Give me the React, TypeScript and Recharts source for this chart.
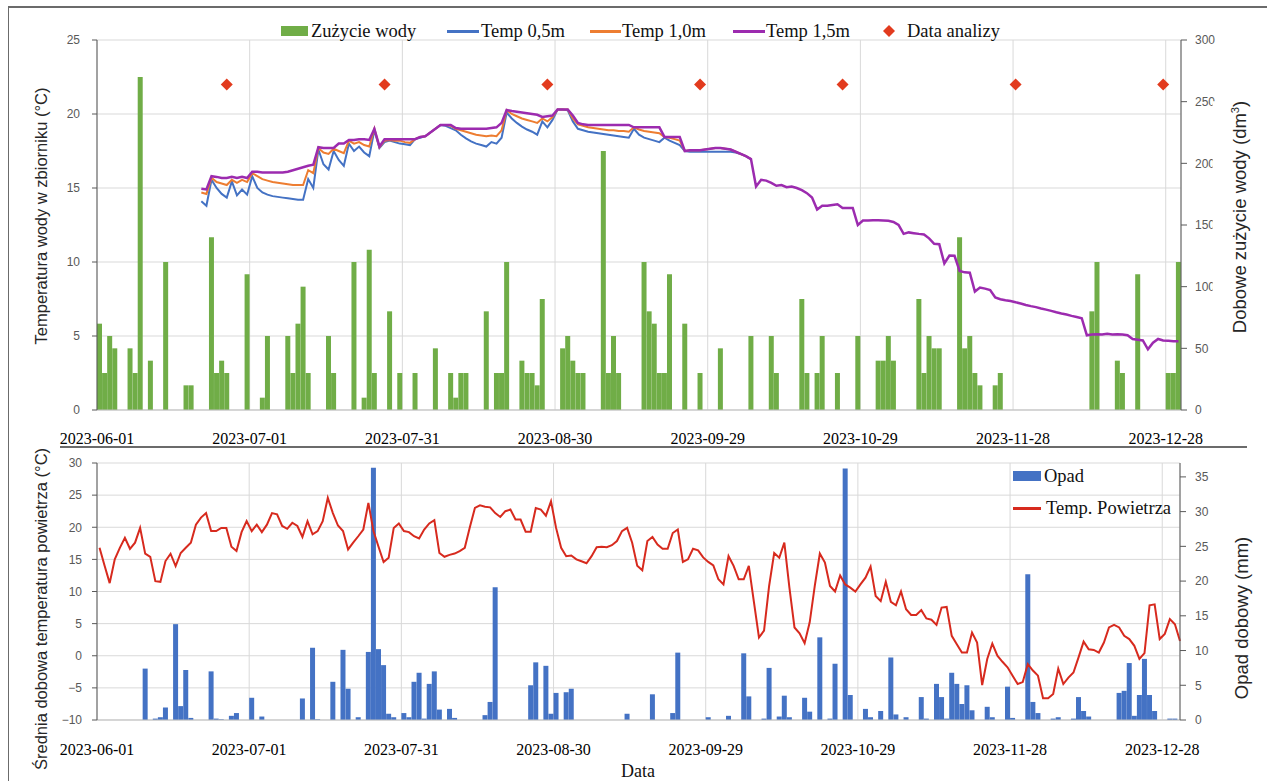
import React from 'react';
import {
  ComposedChart,
  Bar,
  Line,
  XAxis,
  YAxis,
  CartesianGrid,
} from 'recharts';

// day index 0 = 2023-06-01
const X_TICKS = [0, 30, 60, 90, 120, 150, 180, 210];
const X_LABELS = [
  '2023-06-01',
  '2023-07-01',
  '2023-07-31',
  '2023-08-30',
  '2023-09-29',
  '2023-10-29',
  '2023-11-28',
  '2023-12-28',
];

// daily water use (dm3), days 0..212
const WATER = [
  70, 30, 60, 50, 0, 0, 50, 30, 270, 0,
  40, 0, 0, 120, 0, 0, 0, 20, 20, 0,
  0, 0, 140, 30, 40, 30, 0, 0, 0, 110,
  0, 0, 10, 60, 0, 0, 0, 60, 30, 70,
  100, 30, 0, 0, 0, 60, 30, 0, 0, 0,
  120, 0, 10, 130, 30, 0, 0, 80, 0, 30,
  0, 0, 30, 0, 0, 0, 50, 0, 0, 30,
  10, 30, 30, 0, 0, 0, 80, 0, 30, 30,
  120, 0, 0, 40, 30, 30, 20, 90, 0, 0,
  0, 50, 60, 40, 30, 30, 0, 0, 0, 210,
  30, 60, 30, 0, 0, 0, 0, 120, 80, 70,
  30, 30, 110, 0, 0, 70, 0, 0, 30, 0,
  0, 0, 50, 0, 0, 0, 0, 0, 60, 0,
  0, 0, 60, 30, 0, 0, 0, 0, 90, 30,
  0, 30, 60, 0, 0, 30, 0, 0, 0, 60,
  0, 0, 0, 40, 40, 60, 40, 0, 0, 0,
  0, 90, 30, 60, 50, 50, 0, 0, 0, 140,
  50, 60, 30, 20, 0, 0, 20, 30, 0, 0,
  0, 0, 0, 0, 0, 0, 0, 0, 0, 0,
  0, 0, 0, 0, 0, 80, 120, 0, 0, 0,
  40, 30, 0, 0, 110, 0, 0, 0, 0, 0,
  30, 30, 120,
];

// tank temperatures, first value is day 20
const TEMP_START = 20;
const TEMP_15 = [
  14.95, 14.9, 15.8, 15.75, 15.67, 15.67, 15.75, 15.67, 15.75, 15.67,
  16.1, 16.1, 16.05, 16.05, 16.05, 16.05, 16.05, 16.1, 16.2, 16.3,
  16.4, 16.5, 16.57, 17.76, 17.7, 17.7, 17.7, 18.0, 18.0, 18.25,
  18.25, 18.3, 18.3, 18.25, 19.0, 17.8, 18.3, 18.3, 18.3, 18.3,
  18.3, 18.3, 18.3, 18.45, 18.5, 18.75, 19.0, 19.26, 19.26, 19.26,
  19.05, 19.0, 19.0, 19.0, 19.0, 19.0, 19.0, 19.05, 19.1, 19.4,
  20.27, 20.2, 20.15, 20.1, 20.05, 20.0, 19.95, 19.8, 19.85, 19.9,
  20.3, 20.3, 20.3, 19.9, 19.4, 19.3, 19.26, 19.26, 19.26, 19.26,
  19.26, 19.26, 19.26, 19.26, 19.26, 19.1, 19.1, 19.1, 19.1, 19.1,
  19.1, 18.45, 18.45, 18.45, 18.45, 17.5, 17.55, 17.55, 17.55, 17.6,
  17.65, 17.7, 17.7, 17.65, 17.6, 17.45, 17.3, 17.15, 16.95, 15.1,
  15.55, 15.5, 15.35, 15.15, 15.2, 15.05, 15.1, 15.0, 14.85, 14.65,
  14.35, 13.55, 13.8, 13.8, 13.85, 13.9, 13.65, 13.65, 13.65, 12.5,
  12.8, 12.8, 12.82, 12.82, 12.8, 12.78, 12.7, 12.5, 11.9, 12.0,
  11.95, 11.9, 11.86, 11.6, 11.23, 11.2, 9.9, 10.44, 10.42, 9.4,
  9.3, 9.28, 8.0, 8.27, 8.2, 8.1, 7.6, 7.48, 7.42, 7.37,
  7.28, 7.2, 7.1, 7.02, 6.95, 6.86, 6.78, 6.7, 6.6, 6.52,
  6.45, 6.36, 6.28, 6.2, 5.05, 5.1, 5.12, 5.1, 5.15, 5.1,
  5.12, 5.1, 5.05, 4.8, 4.75, 4.7, 4.1, 4.55, 4.8, 4.7,
  4.68, 4.65, 4.65,
];
const TEMP_10 = [
  14.7, 14.6, 15.7, 15.4, 15.3, 15.2, 15.55, 15.35, 15.55, 15.4,
  16.0, 15.8, 15.6, 15.5, 15.4, 15.35, 15.3, 15.25, 15.2, 15.2,
  15.2, 16.2, 16.0, 17.7, 17.4, 17.3, 17.65, 17.5, 17.35, 18.2,
  18.0, 18.1, 17.9, 17.8, 19.0, 17.75, 18.2, 18.25, 18.2, 18.2,
  18.1, 18.05, 18.3, 18.45, 18.5, 18.75, 19.0, 19.26, 19.26, 19.2,
  19.0, 18.9, 18.8, 18.7, 18.6, 18.55, 18.5, 18.55, 18.5, 18.9,
  20.25, 20.0, 19.85, 19.7, 19.6, 19.5, 19.4, 19.7, 19.5, 19.8,
  20.3, 20.3, 20.3, 19.7, 19.3, 19.2, 19.1, 19.05, 19.0, 18.95,
  18.9, 18.9, 18.85, 18.85, 18.8, 19.1, 18.95, 18.85, 18.8, 18.75,
  18.7, 18.45, 18.4, 18.3, 18.2, 17.5, 17.55, 17.55, 17.55, 17.6,
  17.65, 17.7, 17.7, 17.65, 17.6, 17.45, 17.3, 17.15, 16.95,
];
const TEMP_05 = [
  14.1, 13.8, 15.56, 15.0, 14.6, 14.35, 15.45, 14.5, 14.9, 14.55,
  15.8, 15.0, 14.7, 14.55, 14.45, 14.4, 14.35, 14.3, 14.25, 14.2,
  14.2, 15.6, 15.0, 17.6, 16.6, 16.25, 17.5, 16.9, 16.5, 18.0,
  17.5, 17.8, 17.4, 17.15, 18.9, 17.7, 18.1, 18.2, 18.1, 18.0,
  17.95, 17.9, 18.3, 18.4, 18.5, 18.75, 19.0, 19.26, 19.2, 19.05,
  18.9, 18.6, 18.35, 18.15, 18.0, 17.9, 17.8, 18.1, 18.0, 18.4,
  20.1, 19.7, 19.4, 19.15, 18.95, 18.8, 18.6, 19.5, 19.1, 19.6,
  20.3, 20.3, 20.25, 19.5, 19.0, 18.9, 18.8, 18.75, 18.7, 18.65,
  18.6, 18.55, 18.5, 18.45, 18.4, 19.0, 18.6, 18.4, 18.3, 18.2,
  18.1, 18.4, 18.2, 18.05, 17.9, 17.5, 17.45, 17.45, 17.45, 17.45,
  17.45, 17.45, 17.45, 17.45, 17.45, 17.4, 17.3, 17.15, 16.95,
];

// sampling days, marked at 22 °C
const ANALYSIS_DAYS = [25, 56, 88, 118, 146, 180, 209];
const ANALYSIS_LEVEL = 22;

// mean daily air temperature (°C), days 0..213
const AIR_TEMP = [
  16.8, 14.0, 11.3, 15.0, 16.8, 18.36, 16.65, 17.6, 19.9, 15.9,
  15.4, 11.6, 11.5, 14.74, 15.88, 13.96, 16.0, 16.8, 17.6, 20.4,
  21.5, 22.2, 19.4, 19.4, 19.9, 19.9, 16.96, 16.3, 19.24, 20.95,
  19.4, 20.4, 19.24, 20.4, 22.2, 22.0, 20.2, 19.76, 20.7, 20.2,
  18.5, 20.95, 18.9, 19.4, 20.95, 24.57, 22.2, 20.27, 19.4, 16.55,
  17.6, 18.6, 19.65, 23.8, 19.4, 16.96, 14.6, 15.26, 19.9, 20.6,
  19.4, 19.24, 18.6, 18.26, 19.65, 20.6, 21.1, 16.0, 15.4, 15.7,
  15.9, 16.3, 16.8, 20.0, 23.0, 23.4, 23.2, 23.1, 22.2, 21.6,
  22.5, 22.75, 21.2, 21.2, 19.3, 19.3, 23.0, 22.75, 21.8, 24.05,
  19.9, 16.8, 15.5, 15.6, 15.0, 14.7, 14.4, 15.5, 16.9, 16.96,
  16.9, 17.2, 17.85, 19.4, 19.9, 17.6, 14.0, 13.3, 17.85, 18.5,
  17.3, 16.65, 16.65, 19.1, 19.65, 14.6, 15.0, 16.65, 16.4, 15.3,
  14.6, 14.07, 11.9, 11.1, 15.5, 14.0, 11.9, 11.9, 14.0, 8.4,
  2.84, 3.9, 10.86, 16.0, 15.26, 17.6, 10.6, 4.4, 3.5, 1.96,
  5.2, 10.86, 15.9, 14.5, 10.86, 10.0, 12.5, 11.1, 10.6, 10.0,
  11.1, 12.15, 13.86, 9.3, 8.5, 11.5, 8.4, 7.86, 10.0, 7.24,
  6.36, 6.36, 7.1, 5.8, 5.6, 4.8, 7.5, 7.6, 3.1, 1.8,
  0.5, 0.5, 3.6, 2.06, -4.56, -0.5, 1.9, 0, -0.94, -1.8,
  -3.1, -4.4, -4.1, -1.3, -2.3, -3.1, -6.6, -6.6, -5.95, -2.0,
  -4.4, -3.4, -2.6, -0.26, 2.2, 1.0, 0.9, 0.5, 2.06, 4.4,
  4.8, 4.4, 3.1, 2.6, 1.55, -0.5, 0.4, 7.86, 8.0, 2.6,
  3.4, 5.7, 4.9, 2.3,
];

// daily precipitation (mm), days 0..212
const RAIN = [
  0, 0, 0, 0, 0, 0, 0, 0, 0, 7.4,
  0, 0.2, 0.4, 1.8, 0, 13.8, 2.0, 7.2, 0.3, 0,
  0, 0, 7.0, 0.2, 0.1, 0, 0.6, 1.0, 0, 0,
  3.2, 0, 0.5, 0, 0, 0, 0, 0, 0, 0,
  3.1, 0, 10.4, 0.1, 0, 0, 5.5, 0, 10.1, 4.5,
  0, 0.4, 0, 9.8, 36.3, 10.2, 7.9, 0.9, 0.4, 0,
  1.0, 0.4, 5.5, 6.8, 0.2, 5.2, 7.0, 1.5, 0, 1.6,
  0.3, 0, 0, 0, 0, 0, 0.7, 2.6, 19.1, 0,
  0, 0, 0, 0, 0, 5.0, 8.3, 0, 7.8, 0.9,
  3.9, 0, 4.0, 4.5, 0, 0, 0, 0, 0, 0,
  0, 0, 0, 0, 0.9, 0, 0, 0, 0, 3.7,
  0, 0, 0, 1.0, 9.7, 0, 0, 0, 0, 0,
  0.4, 0, 0, 0, 0.6, 0, 0, 9.6, 3.4, 0,
  0, 0.2, 7.5, 0, 0.5, 3.5, 0.4, 0, 0, 3.2,
  1.2, 0, 11.9, 0, 0.2, 8.1, 0, 36.2, 3.6, 0,
  0, 1.6, 0.4, 0, 1.3, 0, 9.0, 0.8, 0, 0.4,
  0, 0, 3.3, 0.2, 0, 5.2, 3.3, 0.2, 6.8, 5.2,
  2.3, 5.0, 1.4, 0, 0, 1.9, 0.4, 0, 0, 4.8,
  0.3, 0, 0, 21.0, 2.6, 1.0, 0, 0, 0.2, 0.4,
  0, 0, 0.2, 3.3, 1.3, 0.5, 0, 0, 0, 0,
  0, 3.9, 4.2, 8.2, 0.6, 3.6, 8.8, 3.6, 1.3, 0,
  0, 0.2, 0.2,
];

const pick = (arr: number[], d: number, start = 0) => {
  const v = arr[d - start];
  return v === undefined ? null : v;
};

// every day sits in the middle of its one-day band
const topData = WATER.map((w, d) => ({
  x: d + 0.5,
  water: w > 0 ? w : null,
  t05: pick(TEMP_05, d, TEMP_START),
  t10: pick(TEMP_10, d, TEMP_START),
  t15: pick(TEMP_15, d, TEMP_START),
  analiza: ANALYSIS_DAYS.includes(d) ? ANALYSIS_LEVEL : null,
}));

const bottomData = AIR_TEMP.map((t, d) => ({
  x: d + 0.5,
  air: t,
  rain: RAIN[d] > 0 ? RAIN[d] : null,
}));

const SERIF = '"Liberation Serif", "Times New Roman", serif';
const SANS = '"Liberation Sans", Arial, sans-serif';
const GREEN = '#70ad47';
const BLUE = '#4472c4';
const ORANGE = '#ed7d31';
const PURPLE = '#9c2baf';
const DIAMOND = '#e23b1e';
const RED = '#d72a1e';

const fmtDate = (v: number) => X_LABELS[X_TICKS.indexOf(v)] ?? '';
const fmtTemp = (v: number) => (v < 0 ? `\u2212${Math.abs(v)}` : `${v}`);

const tickStyle = { fontSize: 12, fill: '#595959', fontFamily: SANS };
const dateTick = { fontSize: 16, fill: '#000', fontFamily: SERIF };

const renderDiamond = (props: any) => {
  const { cx, cy, index, payload } = props;
  if (cx == null || cy == null || payload?.analiza == null) {
    return <g key={`dm-${index}`} />;
  }
  return (
    <polygon
      key={`dm-${index}`}
      points={`${cx},${cy - 6} ${cx + 6},${cy} ${cx},${cy + 6} ${cx - 6},${cy}`}
      fill={DIAMOND}
    />
  );
};

const VTitle = ({ cx, cy, size, pad = 0, children }: any) => (
  <div
    style={{
      position: 'absolute',
      left: cx,
      top: cy,
      transform: 'translate(-50%, -50%) rotate(-90deg)',
      whiteSpace: 'nowrap',
      fontFamily: SANS,
      fontSize: size,
      color: '#262626',
      lineHeight: 1,
      paddingTop: pad,
      background: pad ? '#fff' : 'transparent',
    }}
  >
    {children}
  </div>
);

const LegendText = ({ left, cy, children }: any) => (
  <span
    style={{
      position: 'absolute',
      left,
      top: cy - 10,
      height: 20,
      lineHeight: '20px',
      fontFamily: SERIF,
      fontSize: 18.5,
      color: '#111',
      whiteSpace: 'nowrap',
    }}
  >
    {children}
  </span>
);

const Swatch = ({ left, top, width, height, color }: any) => (
  <div
    style={{ position: 'absolute', left, top, width, height, background: color }}
  />
);

const App: React.FC = () => {
  return (
    <div
      style={{
        position: 'absolute',
        left: 0,
        top: 0,
        width: 1267,
        height: 781,
        background: '#fff',
        overflow: 'hidden',
      }}
    >
      {/* water chart */}
      <div style={{ position: 'absolute', left: 0, top: 0 }}>
        <ComposedChart
          width={1267}
          height={452}
          data={topData}
          margin={{ top: 40, right: 0, bottom: 0, left: 0 }}
        >
          <CartesianGrid stroke='#d9d9d9' />
          <XAxis
            type='number'
            dataKey='x'
            domain={[0, 213]}
            ticks={X_TICKS}
            interval={0}
            tickFormatter={fmtDate}
            height={42}
            tickLine={false}
            tickMargin={17}
            axisLine={{ stroke: '#bfbfbf' }}
            tick={dateTick}
          />
          <YAxis
            domain={[0, 25]}
            ticks={[0, 5, 10, 15, 20, 25]}
            width={97}
            tickSize={5}
            tickMargin={12}
            axisLine={{ stroke: '#595959' }}
            tickLine={{ stroke: '#595959' }}
            tick={tickStyle}
          />
          <YAxis
            yAxisId='right'
            orientation='right'
            domain={[0, 300]}
            ticks={[0, 50, 100, 150, 200, 250, 300]}
            width={86}
            tickSize={6}
            tickMargin={8}
            axisLine={{ stroke: '#595959' }}
            tickLine={{ stroke: '#595959' }}
            tick={tickStyle}
          />
          <Bar
            yAxisId='right'
            dataKey='water'
            fill={GREEN}
            barSize={5}
            isAnimationActive={false}
          />
          <Line
            dataKey='t05'
            stroke={BLUE}
            strokeWidth={2}
            dot={false}
            isAnimationActive={false}
          />
          <Line
            dataKey='t10'
            stroke={ORANGE}
            strokeWidth={2}
            dot={false}
            isAnimationActive={false}
          />
          <Line
            dataKey='t15'
            stroke={PURPLE}
            strokeWidth={2.5}
            dot={false}
            isAnimationActive={false}
          />
          <Line
            dataKey='analiza'
            stroke='none'
            dot={renderDiamond}
            activeDot={false}
            isAnimationActive={false}
          />
        </ComposedChart>
      </div>

      {/* weather chart */}
      <div style={{ position: 'absolute', left: 0, top: 452 }}>
        <ComposedChart
          width={1267}
          height={310}
          data={bottomData}
          margin={{ top: 11, right: 0, bottom: 0, left: 0 }}
        >
          <CartesianGrid stroke='#d9d9d9' />
          <XAxis
            type='number'
            dataKey='x'
            domain={[0, 213]}
            ticks={X_TICKS}
            interval={0}
            tickFormatter={fmtDate}
            height={42}
            tickLine={false}
            tickMargin={18}
            axisLine={{ stroke: '#bfbfbf' }}
            tick={dateTick}
          />
          <YAxis
            domain={[-10, 30]}
            ticks={[-10, -5, 0, 5, 10, 15, 20, 25, 30]}
            tickFormatter={fmtTemp}
            width={97}
            tickSize={5}
            tickMargin={10}
            axisLine={{ stroke: '#595959' }}
            tickLine={{ stroke: '#595959' }}
            tick={tickStyle}
          />
          <YAxis
            yAxisId='right'
            orientation='right'
            domain={[0, 37]}
            ticks={[0, 5, 10, 15, 20, 25, 30, 35]}
            width={87}
            tickSize={6}
            tickMargin={9}
            axisLine={{ stroke: '#595959' }}
            tickLine={{ stroke: '#595959' }}
            tick={tickStyle}
          />
          <Bar
            yAxisId='right'
            dataKey='rain'
            fill={BLUE}
            barSize={5}
            isAnimationActive={false}
          />
          <Line
            dataKey='air'
            stroke={RED}
            strokeWidth={2}
            dot={false}
            isAnimationActive={false}
          />
        </ComposedChart>
      </div>

      {/* frame */}
      <Swatch left={8} top={6} width={1259} height={1.5} color='#6b6b6b' />
      <Swatch left={7.5} top={6} width={1.5} height={775} color='#6b6b6b' />
      <Swatch left={60} top={446} width={1187} height={1.5} color='#6b6b6b' />

      {/* top legend */}
      <Swatch left={281} top={26} width={27} height={10} color={GREEN} />
      <LegendText left={311} cy={31}>Zużycie wody</LegendText>
      <Swatch left={447} top={30} width={32} height={2.5} color={BLUE} />
      <LegendText left={481} cy={31}>Temp 0,5m</LegendText>
      <Swatch left={590} top={30} width={31} height={2.5} color={ORANGE} />
      <LegendText left={622} cy={31}>Temp 1,0m</LegendText>
      <Swatch left={733} top={30} width={32} height={2.5} color={PURPLE} />
      <LegendText left={766} cy={31}>Temp 1,5m</LegendText>
      <svg
        style={{ position: 'absolute', left: 883, top: 25 }}
        width={12}
        height={12}
      >
        <polygon points='6,0 12,6 6,12 0,6' fill={DIAMOND} />
      </svg>
      <LegendText left={907} cy={31}>Data analizy</LegendText>

      {/* bottom legend */}
      <Swatch left={1013} top={471} width={28} height={10} color={BLUE} />
      <LegendText left={1044} cy={476}>Opad</LegendText>
      <Swatch left={1013} top={507} width={28} height={2.5} color={RED} />
      <LegendText left={1046} cy={508}>Temp. Powietrza</LegendText>

      {/* axis titles */}
      <VTitle cx={41} cy={216} size={16.5}>
        Temperatura wody w zbiorniku (°C)
      </VTitle>
      <VTitle cx={1230.5} cy={217} size={18.5} pad={17}>
        Dobowe zużycie wody (dm<sup style={{ fontSize: '60%' }}>3</sup>)
      </VTitle>
      <VTitle cx={41} cy={609} size={16.5}>
        Średnia dobowa temperatura powietrza (°C)
      </VTitle>
      <VTitle cx={1242} cy={618} size={18.5}>
        Opad dobowy (mm)
      </VTitle>
      <div
        style={{
          position: 'absolute',
          left: 638,
          top: 771,
          transform: 'translate(-50%, -50%)',
          fontFamily: SERIF,
          fontSize: 18,
          color: '#111',
          lineHeight: 1,
        }}
      >
        Data
      </div>
    </div>
  );
};

export default App;
